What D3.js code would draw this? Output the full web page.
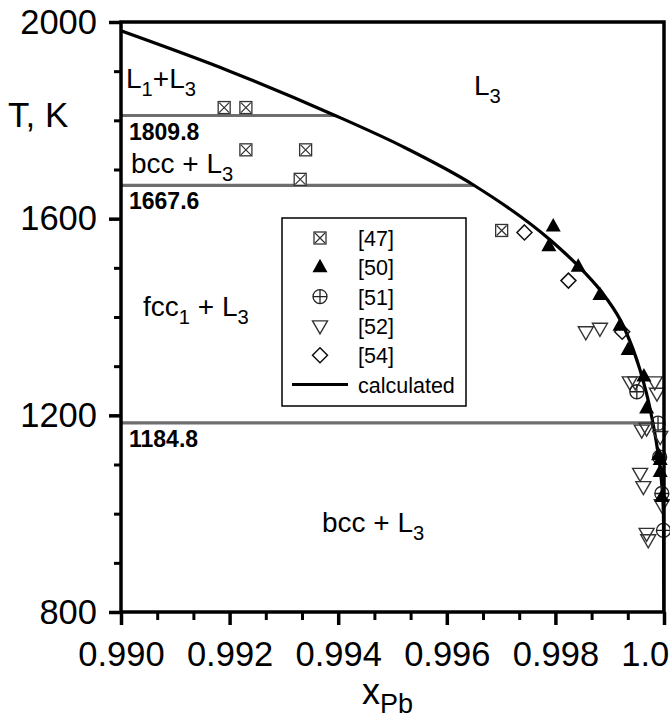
<!DOCTYPE html>
<html>
<head>
<meta charset="utf-8">
<script src="https://cdn.jsdelivr.net/npm/d3@7"></script>
<style>
  html, body { margin: 0; padding: 0; background: #fff; }
  svg { display: block; font-family: "Liberation Sans", Arial, Helvetica, sans-serif; }
</style>
</head>
<body>
<svg id="chart" width="670" height="722"></svg>
<script>
// ---------------- data ----------------
const xMajorTicks = [0.990, 0.992, 0.994, 0.996, 0.998, 1.000];
const xTickLabels = ["0.990", "0.992", "0.994", "0.996", "0.998", "1.000"];
const yMajorTicks = [800, 1200, 1600, 2000];
const yTickLabels = ["800", "1200", "1600", "2000"];

// calculated liquidus
const calcX = [0.99000, 0.99200, 0.99390, 0.99520, 0.99650, 0.99790, 0.99849, 0.99892, 0.99926, 0.99956, 0.99975, 0.99988, 0.99995, 0.99999, 1.00000];
const calcT = [1982, 1900, 1812, 1746, 1668, 1557, 1496, 1441, 1380, 1292, 1210, 1130, 1070, 1000, 800];

// invariant lines
const isoT = [1809.8, 1667.6, 1184.8];
const isoEnd = [0.99393, 0.99650, 0.99980];
const isoLabels = ["1809.8", "1667.6", "1184.8"];

// experimental points
const ref47X = [0.99190, 0.99230, 0.99230, 0.99340, 0.99330, 0.99701];
const ref47T = [1826, 1826, 1740, 1740, 1680, 1576];

const ref50X = [0.99796, 0.99788, 0.99842, 0.99882, 0.99919, 0.99934, 0.99963, 0.99968, 0.99990, 0.99993, 0.99993, 0.99996];
const ref50T = [1584, 1544, 1502, 1445, 1382, 1333, 1279, 1214, 1119, 1109, 1085, 1034];

const ref51X = [0.99950, 0.99989, 0.99992, 0.99996, 0.99999];
const ref51T = [1248, 1184, 1115, 1041, 966];

const ref52X = [0.99856, 0.99882, 0.99937, 0.99947, 0.99983, 0.99987, 0.99959, 0.99968, 0.99993, 0.99956, 0.99962, 0.99968, 0.99971, 0.99996];
const ref52T = [1370, 1377, 1268, 1268, 1268, 1245, 1170, 1174, 1157, 1082, 1055, 960, 947, 1018];

const ref54X = [0.99743, 0.99824, 0.99923];
const ref54T = [1572, 1474, 1370];

const legendLabels = ["[47]", "[50]", "[51]", "[52]", "[54]", "calculated"];

// ---------------- layout ----------------
const W = 670, H = 722;
const margin = { left: 121, right: 6, top: 22, bottom: 110 };
const FONT = 34.5;

const svg = d3.select("#chart");
const x = d3.scaleLinear().domain([0.990, 1.000]).range([margin.left, W - margin.right]);
const y = d3.scaleLinear().domain([800, 2000]).range([H - margin.bottom, margin.top]);

svg.append("defs").append("clipPath").attr("id", "plotclip")
  .append("rect").attr("x", x(0.990)).attr("y", y(2000))
  .attr("width", x(1.0) - x(0.990)).attr("height", y(800) - y(2000));

// minor ticks
const xMinor = d3.range(0, 16).map(i => 0.990 + i * 0.002 / 3).filter((v, i) => i % 3 !== 0);
const yMinor = d3.range(800, 2001, 100).filter(v => v % 400 !== 0);

const gx = svg.append("g").attr("transform", `translate(0,${y(800)})`);
gx.call(d3.axisBottom(x).tickValues(xMinor).tickSize(8).tickFormat(""));
gx.selectAll(".tick line").attr("stroke", "#000").attr("stroke-width", 3);
const gx2 = svg.append("g").attr("transform", `translate(0,${y(800)})`)
  .call(d3.axisBottom(x).tickValues(xMajorTicks).tickSize(13).tickPadding(17)
    .tickFormat((d, i) => xTickLabels[i]));
gx2.selectAll(".tick line").attr("stroke", "#000").attr("stroke-width", 3.5);
gx2.selectAll("text").attr("font-size", FONT).attr("fill", "#000")
  .attr("font-family", "'Liberation Sans', Arial, sans-serif");
svg.selectAll(".domain").remove();

const gy = svg.append("g").attr("transform", `translate(${x(0.990)},0)`);
gy.call(d3.axisLeft(y).tickValues(yMinor).tickSize(7).tickFormat(""));
gy.selectAll(".tick line").attr("stroke", "#000").attr("stroke-width", 3);
const gy2 = svg.append("g").attr("transform", `translate(${x(0.990)},0)`)
  .call(d3.axisLeft(y).tickValues(yMajorTicks).tickSize(12).tickPadding(12)
    .tickFormat((d, i) => yTickLabels[i]));
gy2.selectAll(".tick line").attr("stroke", "#000").attr("stroke-width", 3.5);
gy2.selectAll("text").attr("font-size", FONT).attr("fill", "#000")
  .attr("font-family", "'Liberation Sans', Arial, sans-serif");
svg.selectAll(".domain").remove();

// invariant lines
const plot = svg.append("g").attr("clip-path", "url(#plotclip)");
plot.selectAll("line.iso").data(isoT).join("line").attr("class", "iso")
  .attr("x1", x(0.990)).attr("x2", (d, i) => x(isoEnd[i]))
  .attr("y1", d => y(d)).attr("y2", d => y(d))
  .attr("stroke", "#6e6e6e").attr("stroke-width", 3.2);

// calculated curve
const calcData = calcX.map((v, i) => [v, calcT[i]]);
plot.append("path").datum(calcData)
  .attr("d", d3.line().x(d => x(d[0])).y(d => y(d[1])).curve(d3.curveMonotoneX))
  .attr("fill", "none").attr("stroke", "#000").attr("stroke-width", 3.2);

// symbol drawers
const SYM = {
  box: (g) => {
    g.append("rect").attr("x", -6).attr("y", -6).attr("width", 12).attr("height", 12)
      .attr("fill", "#fff").attr("stroke", "#333").attr("stroke-width", 1.3);
    g.append("path").attr("d", "M-5,-5L5,5M5,-5L-5,5").attr("stroke", "#333").attr("stroke-width", 1.2);
  },
  triUp: (g) => {
    g.append("path").attr("d", "M0,-8.5L7.5,5L-7.5,5Z").attr("fill", "#000");
  },
  circPlus: (g) => {
    g.append("circle").attr("r", 7).attr("fill", "none").attr("stroke", "#222").attr("stroke-width", 1.3);
    g.append("path").attr("d", "M-7,0H7M0,-7V7").attr("stroke", "#222").attr("stroke-width", 1.3);
  },
  triDown: (g) => {
    g.append("path").attr("d", "M-7.5,-5L7.5,-5L0,8Z").attr("fill", "none").attr("stroke", "#333").attr("stroke-width", 1.4);
  },
  diamond: (g) => {
    g.append("path").attr("d", "M0,-7.5L7.5,0L0,7.5L-7.5,0Z").attr("fill", "none").attr("stroke", "#111").attr("stroke-width", 1.5);
  }
};

function drawSeries(xs, ts, sym) {
  const g = svg.append("g");
  xs.forEach((v, i) => {
    const s = g.append("g").attr("transform", `translate(${x(v)},${y(ts[i])})`);
    SYM[sym](s);
  });
}
drawSeries(ref47X, ref47T, "box");
drawSeries(ref52X, ref52T, "triDown");
drawSeries(ref54X, ref54T, "diamond");
drawSeries(ref51X, ref51T, "circPlus");
drawSeries(ref50X, ref50T, "triUp");

// frame
svg.append("rect").attr("x", x(0.990)).attr("y", y(2000))
  .attr("width", x(1.0) - x(0.990)).attr("height", y(800) - y(2000))
  .attr("fill", "none").attr("stroke", "#000").attr("stroke-width", 3.5);

// rich text helper: parts = [[text, "sub"|""], ...]
function richText(px, py, parts, size, weight) {
  const t = svg.append("text").attr("x", px).attr("y", py)
    .attr("font-size", size).attr("font-weight", weight || "normal").attr("fill", "#000");
  let lowered = false;
  parts.forEach(([s, kind]) => {
    const sp = t.append("tspan").text(s);
    if (kind === "sub") {
      sp.attr("font-size", size * 0.72).attr("dy", size * 0.28);
      lowered = true;
    } else if (lowered) {
      sp.attr("dy", -size * 0.28);
      lowered = false;
    }
  });
  return t;
}

const RF = 28;
richText(126, 88, [["L", ""], ["1", "sub"], ["+L", ""], ["3", "sub"]], RF);
richText(474, 95, [["L", ""], ["3", "sub"]], RF);
richText(131, 173, [["bcc + L", ""], ["3", "sub"]], RF);
richText(143, 316, [["fcc", ""], ["1", "sub"], [" + L", ""], ["3", "sub"]], RF);
richText(322, 532, [["bcc + L", ""], ["3", "sub"]], RF);

// invariant labels
svg.selectAll("text.iso").data(isoT).join("text").attr("class", "iso")
  .attr("x", x(0.990) + 8).attr("y", d => y(d) + 24)
  .attr("font-size", 23).attr("font-weight", "bold").attr("fill", "#000")
  .text((d, i) => isoLabels[i]);

// axis titles
svg.append("text").attr("x", 8).attr("y", 127).attr("font-size", 35).attr("fill", "#000").text("T, K");
const xt = svg.append("text").attr("x", 362).attr("y", 704).attr("font-size", 36).attr("fill", "#000");
xt.append("tspan").text("x");
xt.append("tspan").attr("font-size", 27).attr("dy", 9).text("Pb");

// legend
const lg = svg.append("g");
lg.append("rect").attr("x", 282).attr("y", 218).attr("width", 184).attr("height", 188)
  .attr("fill", "#fff").attr("stroke", "#000").attr("stroke-width", 1.5);
const legSyms = ["box", "triUp", "circPlus", "triDown", "diamond", "line"];
legSyms.forEach((s, i) => {
  const cy = 238 + i * 29.3;
  if (s === "line") {
    lg.append("line").attr("x1", 292).attr("x2", 348).attr("y1", cy).attr("y2", cy)
      .attr("stroke", "#000").attr("stroke-width", 3);
  } else {
    const g = lg.append("g").attr("transform", `translate(320,${cy})`);
    SYM[s](g);
  }
  lg.append("text").attr("x", 358).attr("y", cy + 8).attr("font-size", 21.5).attr("fill", "#000")
    .text(legendLabels[i]);
});
</script>
</body>
</html>
